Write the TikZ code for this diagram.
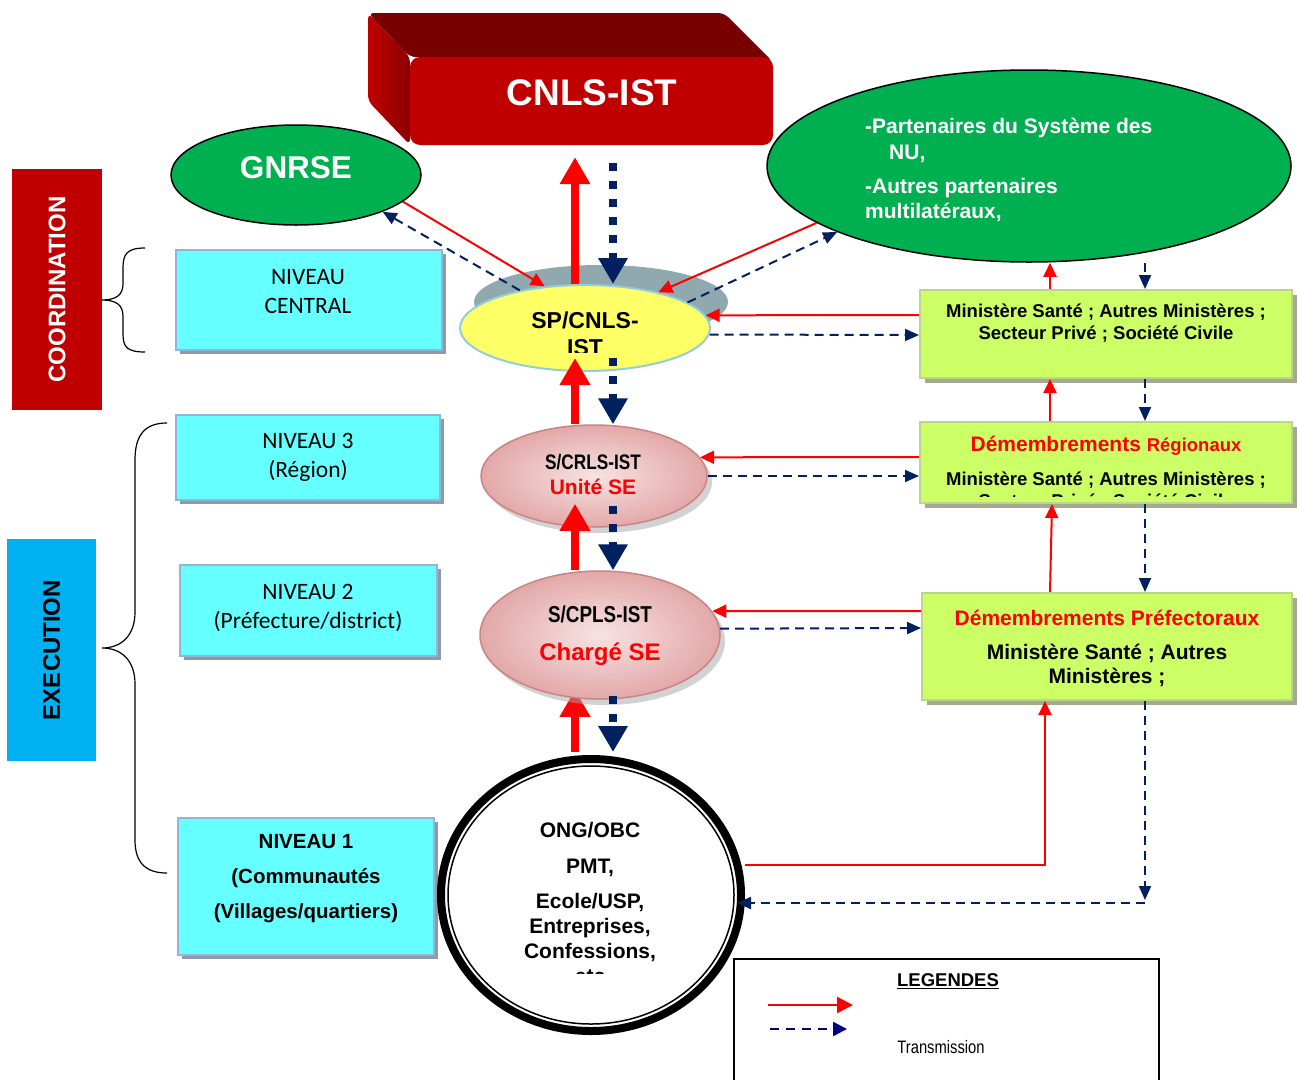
\documentclass[tikz,border=0pt]{standalone}
\usepackage{fontspec}
\setmainfont{Liberation Sans}
\newfontfamily\calibrifont{Carlito}
\newfontfamily\narrowfont[FakeStretch=0.82]{Liberation Sans}
\usetikzlibrary{shapes.geometric,arrows.meta,shadows,backgrounds,calc}
\newcommand{\fsz}[2]{\fontsize{#1}{#2}\selectfont}
\definecolor{cnlsred}{HTML}{C00000}
\definecolor{cnlsdark}{HTML}{780000}
\definecolor{cnlsleft}{HTML}{A30000}
\definecolor{grn}{HTML}{00B050}
\definecolor{yel}{HTML}{FFFF66}
\definecolor{yelborder}{HTML}{92CDDC}
\definecolor{spshadow}{HTML}{8FA9AF}
\definecolor{cyanfill}{HTML}{66FFFF}
\definecolor{cyanborder}{HTML}{95B3D7}
\definecolor{cyanshadow}{HTML}{8E9AAA}
\definecolor{limefill}{HTML}{CCFF66}
\definecolor{limeborder}{HTML}{BDD48F}
\definecolor{limeshadow}{HTML}{A4AB8C}
\definecolor{navy}{HTML}{002060}
\definecolor{legnavy}{HTML}{000080}
\definecolor{pinkin}{HTML}{F7E3E3}
\definecolor{pinkout}{HTML}{E3A8A8}
\definecolor{pinkborder}{HTML}{C98585}
\definecolor{execblue}{HTML}{00B0F0}
\definecolor{rd}{HTML}{FF0000}
\tikzset{
 cyanbox/.style={rectangle, fill=cyanfill, draw=cyanborder, line width=2pt, drop shadow={shadow xshift=4pt,shadow yshift=-4pt,fill=cyanshadow,opacity=1}},
 limebox/.style={rectangle, fill=limefill, draw=limeborder, line width=2pt, drop shadow={shadow xshift=5pt,shadow yshift=-5pt,fill=limeshadow,opacity=1}},
 pinkell/.style={ellipse, draw=pinkborder, line width=1.5pt, inner color=pinkin, outer color=pinkout, drop shadow={shadow xshift=5pt,shadow yshift=-6pt,fill=black!35,opacity=.5}},
 redarrow/.style={draw=rd, line width=2pt, -{Triangle[length=14pt,width=13pt]}},
 navyarrow/.style={draw=navy, line width=2pt, dash pattern=on 9pt off 6pt, -{Triangle[length=14pt,width=12pt]}},
 bigred/.style={draw=rd, line width=8pt, -{Triangle[length=27pt,width=29pt]}},
 bignavy/.style={draw=navy, line width=7.5pt, dash pattern=on 8pt off 10pt, -{Triangle[length=26pt,width=28pt]}},
 btxt/.style={font=\bfseries, align=center, inner sep=0pt},
 caltxt/.style={font=\calibrifont\fsz{23.5}{29}, align=center, inner sep=0pt},
}
\begin{document}
\begin{tikzpicture}[x=1pt,y=-1pt]
\useasboundingbox (0,0) rectangle (1297,1079);
% side bands
\node[rectangle, fill=cnlsred, rotate=90, minimum width=241pt, minimum height=90pt, text=white, font=\bfseries\fsz{24}{27}] (coord) at (57,289.5) {COORDINATION};
\node[rectangle, fill=execblue, rotate=90, minimum width=222pt, minimum height=89pt, font=\bfseries\fsz{24}{27}] (exec) at (51.5,650) {EXECUTION};
% braces
\draw[line width=1.2pt] (145,248) .. controls (127,248) and (123,254) .. (123,268) -- (123,284) .. controls (123,295) and (116,300) .. (102,300) .. controls (116,300) and (123,305) .. (123,316) -- (123,334) .. controls (123,347) and (127,352) .. (145,352);
\draw[line width=1.2pt] (167,423) .. controls (144,423) and (135,436) .. (135,460) -- (135,612) .. controls (135,636) and (121,648) .. (102,648) .. controls (121,648) and (135,660) .. (135,684) -- (135,840) .. controls (135,862) and (145,873) .. (167,873);
% cyan level boxes
\node[cyanbox, minimum width=266pt, minimum height=100pt] (nc) at (309,300) {};
\node[caltxt] (ncT) at (308,292) {NIVEAU\\CENTRAL};
\node[cyanbox, minimum width=264pt, minimum height=85pt] (n3) at (308,457.5) {};
\node[caltxt] (n3T) at (308,457) {NIVEAU 3\\(Région)};
\node[cyanbox, minimum width=257pt, minimum height=91pt] (n2) at (308.5,610.5) {};
\node[caltxt] (n2T) at (308,608) {NIVEAU 2\\(Préfecture/district)};
\node[cyanbox, minimum width=256pt, minimum height=137pt] (n1) at (306,886.5) {};
\node[btxt, font=\bfseries\fsz{20.5}{35}] (n1T) at (306,879) {NIVEAU 1\\(Communautés\\(Villages/quartiers)};
% CNLS-IST 3D box
\fill[cnlsdark, rounded corners=6pt] (368,13) -- (724,13) -- (773,62) -- (410,57) -- cycle;
\shade[left color=cnlsred, right color=cnlsleft!85!black, rounded corners=6pt] (368,13) -- (410,57) -- (410,145) -- (368,101) -- cycle;
\node[rectangle, rounded corners=10pt, fill=cnlsred, minimum width=363pt, minimum height=88pt] (cnls) at (591.5,101) {};
\node[text=white, font=\bfseries\fsz{37}{40}, inner sep=0pt] (cnlsT) at (592,93) {CNLS-IST};
% GNRSE
\node[ellipse, fill=grn, draw=black, line width=1.5pt, minimum width=250pt, minimum height=100pt] (gnrse) at (296,175) {};
\node[text=white, font=\bfseries\fsz{31.5}{34}, inner sep=0pt] (gnrseT) at (296,168) {GNRSE};
% partners
\node[ellipse, fill=grn, draw=black, line width=1.5pt, minimum width=524pt, minimum height=192pt] (partners) at (1029,166) {};
\node[anchor=west, align=left, text=white, font=\bfseries\fsz{21}{26}, inner sep=0pt] (partT1) at (865,140) {-Partenaires du Système des\\\hspace*{24pt}NU,};
\node[anchor=west, align=left, text=white, font=\bfseries\fsz{21}{25}, inner sep=0pt] (partT2) at (865,200) {-Autres partenaires\\multilatéraux,};
% SP/CNLS-IST
\fill[spshadow] (601,302) ellipse [x radius=127, y radius=37];
\node[ellipse, fill=yel, draw=yelborder, line width=2pt, minimum width=250pt, minimum height=86pt] (sp) at (585,328) {};
\begin{scope}
\clip (480,300) rectangle (690,352);
\node[btxt, font=\bfseries\fsz{23}{27}] (spT) at (585,334) {SP/CNLS-\\IST};
\end{scope}
% S/CRLS-IST
\node[pinkell, minimum width=226pt, minimum height=102pt] (crls) at (594,476) {};
\node[font=\narrowfont\bfseries\fsz{21}{24}, inner sep=0pt] (crlsT) at (593,462) {S/CRLS-IST};
\node[text=rd, font=\bfseries\fsz{21}{24}, inner sep=0pt] (crlsU) at (593,487) {Unité SE};
% S/CPLS-IST
\node[pinkell, minimum width=240pt, minimum height=128pt] (cpls) at (600,635) {};
\node[font=\narrowfont\bfseries\fsz{23}{26}, inner sep=0pt] (cplsT) at (600,614) {S/CPLS-IST};
\node[text=rd, font=\bfseries\fsz{24}{26}, inner sep=0pt] (cplsU) at (600,654) {Chargé SE};
% ONG circle
\node[ellipse, draw=black, fill=white, line width=8pt, minimum width=300pt, minimum height=272pt] (ong) at (591,895) {};
\draw[line width=1.5pt] (ong.center) ellipse [x radius=143, y radius=129];
\begin{scope}
\clip (470,800) rectangle (720,973);
\node[btxt, font=\bfseries\fsz{21}{25}, anchor=north] (ongT) at (590,822) {ONG/OBC\\[11pt]PMT,\\[10pt]Ecole/USP,\\Entreprises,\\Confessions,\\etc};
\end{scope}
% lime boxes
\node[limebox, minimum width=372pt, minimum height=88pt] (boxA) at (1106,334) {};
\node[btxt, font=\bfseries\fsz{18.5}{22}] (boxAT) at (1106,323) {Ministère Santé ; Autres Ministères ;\\Secteur Privé ; Société Civile};
\node[limebox, minimum width=372pt, minimum height=81pt] (boxB) at (1106,462.5) {};
\node[text=rd, font=\bfseries\fsz{21}{24}, inner sep=0pt] (boxBH) at (1106,446) {Démembrements {\fsz{18.5}{24}Régionaux}};
\begin{scope}
\clip (925,465) rectangle (1288,496);
\node[btxt, font=\bfseries\fsz{18.5}{22}] (boxBT) at (1106,491) {Ministère Santé ; Autres Ministères ;\\Secteur Privé ; Société Civile};
\end{scope}
\node[limebox, minimum width=370pt, minimum height=107pt] (boxC) at (1107,646.5) {};
\node[text=rd, font=\bfseries\fsz{21}{24}, inner sep=0pt] (boxCH) at (1107,618) {Démembrements Préfectoraux};
\node[btxt, font=\bfseries\fsz{21}{24}] (boxCT) at (1107,665) {Ministère Santé ; Autres\\Ministères ;};
% legend
\node[rectangle, draw=black, line width=1.5pt, fill=white, minimum width=425pt, minimum height=140pt, anchor=north west] (legend) at (733,958) {};
\node[font=\bfseries\fsz{18.5}{20}, inner sep=0pt] (legT) at (948,981) {\underline{LEGENDES}};
\coordinate (lr1) at (768,1005);
\coordinate (lr2) at (853,1005);
\coordinate (ln1) at (770,1029);
\coordinate (ln2) at (847,1029);
\draw[draw=rd, line width=2.5pt, -{Triangle[length=16pt,width=16pt]}] (lr1) -- (lr2);
\draw[draw=legnavy, line width=2.5pt, dash pattern=on 9pt off 7pt, -{Triangle[length=14pt,width=14pt]}] (ln1) -- (ln2);
\node[font=\narrowfont\fsz{18}{20}, inner sep=0pt] (legTr) at (941,1047) {Transmission};
% hidden arrow under S/CPLS
\begin{pgfonlayer}{background}
\draw[bigred] ([xshift=-16pt,yshift=3pt]ong.north) -- ([xshift=-25pt,yshift=10pt]cpls.south);
\end{pgfonlayer}
% thick vertical arrows
\draw[bigred] ([xshift=-10pt]sp.north) -- ([xshift=-16.5pt,yshift=-12pt]cnls.south);
\draw[bignavy] ([xshift=21.5pt,yshift=-18pt]cnls.south) -- ([xshift=28pt]sp.north);
\draw[bigred] ([xshift=-19pt]crls.north) -- ([xshift=-10pt,yshift=14pt]sp.south);
\draw[bignavy] ([xshift=28pt,yshift=14pt]sp.south) -- ([xshift=19pt]crls.north);
\draw[bigred] ([xshift=-25pt]cpls.north) -- ([xshift=-19pt,yshift=24pt]crls.south);
\draw[bignavy] ([xshift=19pt,yshift=22pt]crls.south) -- ([xshift=13pt]cpls.north);
\draw[bignavy] ([xshift=13pt,yshift=4pt]cpls.south) -- ([xshift=22pt,yshift=3pt]ong.north);
% thin arrows around SP
\draw[redarrow] (gnrse.-14) -- (sp.134);
\draw[navyarrow] (sp.150) -- (gnrse.-23);
\draw[redarrow] (partners.195) -- (sp.26);
\draw[navyarrow] (sp.14) -- (partners.199);
% horizontal arrows
\draw[redarrow] ([yshift=19pt]boxA.west) -- (sp.6);
\draw[navyarrow] (sp.-3) -- ([yshift=-1pt]boxA.west);
\draw[redarrow] ([yshift=5.5pt]boxB.west) -- (crls.10);
\draw[navyarrow] (crls.0) -- ([yshift=-13.5pt]boxB.west);
\draw[redarrow] ([yshift=35.5pt]boxC.west) -- (cpls.12);
\draw[navyarrow] (cpls.3) -- ([yshift=18.5pt]boxC.west);
% right column vertical arrows
\draw[redarrow] ([xshift=-56pt]boxA.north) -- ([xshift=-56pt]boxA.north |- partners.south);
\draw[navyarrow] ([xshift=39pt]boxA.north |- partners.south) -- ([xshift=39pt]boxA.north);
\draw[redarrow] ([xshift=-56pt]boxB.north) -- ([xshift=-56pt]boxA.south);
\draw[navyarrow] ([xshift=39pt]boxA.south) -- ([xshift=39pt]boxB.north);
\draw[redarrow] ([xshift=-57pt]boxC.north) -- ([xshift=-54pt]boxB.south);
\draw[navyarrow] ([xshift=39pt]boxB.south) -- ([xshift=38pt]boxC.north);
% bottom loops
\coordinate (elbowR) at (1045,865);
\draw[redarrow] (ong.east |- elbowR) -- (elbowR) -- (boxC.south -| elbowR);
\coordinate (cornerN) at (1145,900);
\draw[navyarrow] ([xshift=38pt]boxC.south) -- (cornerN);
\draw[navyarrow] ([yshift=-3pt]cornerN) -- ([xshift=-8pt,yshift=-3pt]ong.east |- cornerN);
\end{tikzpicture}
\end{document}
